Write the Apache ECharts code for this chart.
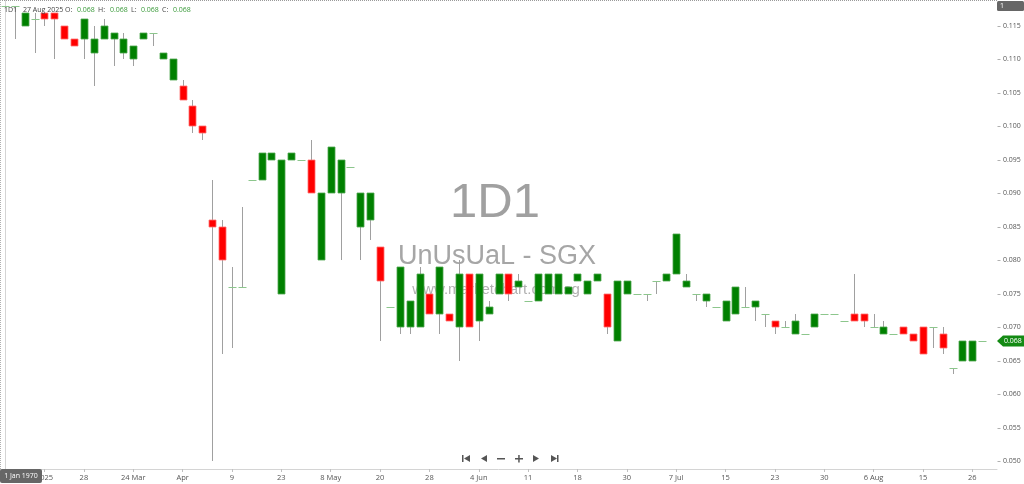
<!DOCTYPE html>
<html><head><meta charset="utf-8">
<script src="https://cdn.jsdelivr.net/npm/echarts@6/dist/echarts.min.js"></script>
<style>html,body{margin:0;padding:0;background:#fff}#c{width:1024px;height:484px}</style>
</head><body><div id="c"></div>
<script>
// ---- data ----
const symbolName = '1D1';
const lastDate = '27 Aug 2025';
const openP = [
 0.118,0.118,0.115,0.116,0.117,0.117,0.115,0.113,0.113,0.111,
 0.113,0.113,0.111,0.110,0.113,0.114,0.110,0.107,0.106,0.103,
 0.100,0.086,0.085,0.076,0.076,0.092,0.092,0.095,0.075,0.095,
 0.095,0.095,0.080,0.090,0.090,0.094,0.085,0.086,0.082,0.073,
 0.070,0.070,0.070,0.075,0.072,0.072,0.070,0.078,0.071,0.072,
 0.075,0.078,0.076,0.074,0.074,0.075,0.075,0.075,0.077,0.075,
 0.077,0.075,0.068,0.075,0.075,0.075,0.077,0.077,0.078,0.076,
 0.075,0.074,0.073,0.071,0.072,0.073,0.073,0.072,0.071,0.070,
 0.069,0.069,0.070,0.072,0.072,0.071,0.072,0.072,0.070,0.069,
 0.069,0.070,0.069,0.070,0.070,0.069,0.064,0.065,0.065,0.068];
const highP = [
 0.118,0.118,0.117,0.117,0.117,0.117,0.115,0.113,0.116,0.115,
 0.116,0.114,0.114,0.112,0.114,0.114,0.111,0.110,0.107,0.104,
 0.100,0.092,0.086,0.079,0.088,0.092,0.096,0.096,0.095,0.096,
 0.095,0.098,0.090,0.097,0.095,0.094,0.090,0.090,0.082,0.073,
 0.079,0.074,0.079,0.075,0.079,0.072,0.080,0.078,0.078,0.074,
 0.078,0.078,0.078,0.074,0.078,0.078,0.078,0.076,0.078,0.077,
 0.078,0.075,0.077,0.077,0.075,0.075,0.077,0.078,0.084,0.078,
 0.075,0.075,0.073,0.074,0.076,0.076,0.074,0.072,0.071,0.071,
 0.072,0.069,0.072,0.072,0.072,0.071,0.078,0.072,0.072,0.071,
 0.069,0.070,0.069,0.070,0.070,0.070,0.064,0.068,0.068,0.068];
const lowP = [
 0.118,0.113,0.115,0.111,0.115,0.110,0.113,0.112,0.110,0.106,
 0.113,0.109,0.110,0.109,0.113,0.112,0.110,0.107,0.104,0.099,
 0.098,0.050,0.066,0.067,0.076,0.092,0.092,0.095,0.075,0.095,
 0.095,0.090,0.080,0.090,0.080,0.094,0.080,0.083,0.068,0.073,
 0.069,0.069,0.070,0.072,0.069,0.071,0.065,0.070,0.068,0.072,
 0.075,0.074,0.076,0.074,0.074,0.075,0.075,0.075,0.077,0.075,
 0.077,0.069,0.068,0.075,0.075,0.074,0.075,0.077,0.078,0.076,
 0.074,0.073,0.073,0.071,0.072,0.073,0.071,0.070,0.069,0.070,
 0.069,0.069,0.070,0.072,0.072,0.071,0.071,0.070,0.070,0.069,
 0.069,0.069,0.068,0.066,0.067,0.066,0.063,0.065,0.065,0.068];
const closeP = [
 0.118,0.118,0.117,0.116,0.116,0.116,0.113,0.112,0.116,0.113,
 0.115,0.114,0.113,0.112,0.114,0.114,0.111,0.110,0.104,0.100,
 0.099,0.085,0.080,0.076,0.076,0.092,0.096,0.096,0.095,0.096,
 0.095,0.090,0.090,0.097,0.095,0.094,0.090,0.090,0.077,0.073,
 0.079,0.074,0.078,0.072,0.079,0.071,0.078,0.070,0.078,0.073,
 0.078,0.075,0.077,0.074,0.078,0.078,0.078,0.076,0.078,0.077,
 0.078,0.070,0.077,0.077,0.075,0.075,0.077,0.078,0.084,0.077,
 0.075,0.075,0.073,0.074,0.076,0.073,0.074,0.072,0.070,0.070,
 0.071,0.069,0.072,0.072,0.072,0.071,0.071,0.071,0.070,0.070,
 0.069,0.069,0.068,0.066,0.070,0.067,0.064,0.068,0.068,0.068];
const tickIdx  = [4,8,13,18,23,28,33,38,43,48,53,58,63,68,73,78,83,88,93,98];
const tickText = ['2025','28','24 Mar','Apr','9','23','8 May','20','28','4 Jun','11','18','30','7 Jul','15','23','30','6 Aug','15','26'];
const yTicks = [0.050,0.055,0.060,0.065,0.070,0.075,0.080,0.085,0.090,0.095,0.100,0.105,0.110,0.115];

// ---- chart ----
const GREEN = '#008000', RED = '#ff0000', WICK = '#a0a0a0', DOJI = '#8cc68c';
const FONT = 'Open Sans';
const rows = openP.map((o, i) => [i, o, highP[i], lowP[i], closeP[i]]);

function renderItem(params, api) {
  const k = api.value(0), o = api.value(1), h = api.value(2), l = api.value(3), c = api.value(4);
  const pO = api.coord([k, o]), pC = api.coord([k, c]), pH = api.coord([k, h]), pL = api.coord([k, l]);
  const cx = Math.round(pO[0]) + 0.5;
  const children = [];
  if (h > Math.max(o, c) || l < Math.min(o, c)) {
    children.push({type: 'line', shape: {x1: cx, y1: Math.round(pH[1]), x2: cx, y2: Math.round(pL[1])},
      style: {stroke: WICK, lineWidth: 1}});
  }
  if (o === c) {
    const y = Math.round(pO[1]) + 0.5;
    children.push({type: 'line', shape: {x1: cx - 4, y1: y, x2: cx + 4, y2: y}, style: {stroke: DOJI, lineWidth: 1}});
  } else {
    const top = Math.round(Math.min(pO[1], pC[1])), bot = Math.round(Math.max(pO[1], pC[1]));
    children.push({type: 'rect', shape: {x: cx - 3.5, y: top, width: 7, height: bot - top},
      style: {fill: c > o ? GREEN : RED, stroke: c > o ? '#4ea64e' : '#ff7070', lineWidth: 0.8}});
  }
  return {type: 'group', children};
}

const chart = echarts.init(document.getElementById('c'), null, {renderer: 'canvas'});
chart.setOption({
  animation: false,
  backgroundColor: '#ffffff',
  grid: {left: 0, right: 27, top: 0, bottom: 15},
  xAxis: {
    type: 'value', min: -0.5, max: 100.5,
    splitLine: {show: false}, minorTick: {show: false},
    axisLine: {show: true, onZero: false, lineStyle: {color: '#d4d4d4', width: 1}},
    axisTick: {show: true, customValues: tickIdx, length: 3, lineStyle: {color: '#c0c0c0'}},
    axisLabel: {customValues: tickIdx, margin: 5, color: '#555', fontSize: 7.5, fontFamily: FONT,
      formatter: v => { const i = tickIdx.indexOf(Math.round(v)); return i >= 0 ? tickText[i] : ''; }}
  },
  yAxis: {
    type: 'value', position: 'right', min: 0.04888, max: 0.11888, scale: true,
    splitLine: {show: false}, minorTick: {show: false}, splitArea: {show: false},
    axisLine: {show: true, lineStyle: {color: '#d4d4d4', width: 1}},
    axisTick: {show: false},
    axisLabel: {customValues: yTicks, margin: 6, color: '#555', fontSize: 7, fontFamily: FONT,
      formatter: v => v.toFixed(3)}
  },
  series: [{
    type: 'custom', renderItem, data: rows, clip: true,
    encode: {x: 0, y: [1, 2, 3, 4]}, z: 5
  }]
});

const last = rows.length - 1;
const py = chart.convertToPixel({yAxisIndex: 0}, closeP[last]);
const f3 = v => v.toFixed(3);
const hdr = (x, t, col) => ({type: 'text', x, y: 10, z: 50,
  style: {text: t, fill: col, font: '7px "Open Sans"', textVerticalAlign: 'middle'}});
const tri = (pts) => ({type: 'polygon', z: 50, shape: {points: pts}, style: {fill: '#555'}});
const yTickMarks = yTicks.map(v => {
  const y = Math.round(chart.convertToPixel({yAxisIndex: 0}, v)) + 0.5;
  return {type: 'line', z: 45, shape: {x1: 997.5, y1: y, x2: 1000.5, y2: y}, style: {stroke: '#b0b0b0', lineWidth: 1}};
});

chart.setOption({
  graphic: [
    // watermarks
    {type: 'text', x: 495, y: 203, z: -10, style: {text: symbolName, fill: '#a0a0a0', font: '49px "Liberation Sans"', textAlign: 'center', textVerticalAlign: 'middle'}},
    {type: 'text', x: 497, y: 257, z: -10, style: {text: 'UnUsUaL - SGX', fill: '#a6a6a6', font: '27px "Liberation Sans"', textAlign: 'center', textVerticalAlign: 'middle'}},
    {type: 'text', x: 496, y: 290, z: -10, style: {text: 'www.marketchart.com.sg', fill: '#b0b0b0', font: '15px "Liberation Sans"', textAlign: 'center', textVerticalAlign: 'middle'}},
    // dotted borders
    {type: 'line', z: 40, shape: {x1: 0, y1: 0.5, x2: 997, y2: 0.5}, style: {stroke: '#9a9a9a', lineWidth: 1, lineDash: [1, 1]}},
    {type: 'line', z: 40, shape: {x1: 0.5, y1: 0, x2: 0.5, y2: 469}, style: {stroke: '#b0b0b0', lineWidth: 1, lineDash: [1, 1]}},
    ...yTickMarks,
    // header
    hdr(4, symbolName, '#444'), hdr(23, lastDate, '#444'),
    hdr(65, 'O:', '#444'), hdr(77, f3(openP[last]), '#3a9a3a'),
    hdr(98, 'H:', '#444'), hdr(110, f3(highP[last]), '#3a9a3a'),
    hdr(131, 'L:', '#444'), hdr(141, f3(lowP[last]), '#3a9a3a'),
    hdr(162, 'C:', '#444'), hdr(173, f3(closeP[last]), '#3a9a3a'),
    // top-right box
    {type: 'rect', z: 50, shape: {x: 997, y: 1, width: 27, height: 10, r: 1.5}, style: {fill: '#666'}},
    {type: 'text', x: 1000, y: 6, z: 51, style: {text: '1', fill: '#fff', font: '7px "Open Sans"', textVerticalAlign: 'middle'}},
    // bottom-left date box
    {type: 'rect', z: 50, shape: {x: 0, y: 469, width: 42, height: 14, r: 2}, style: {fill: '#666'}},
    {type: 'text', x: 21, y: 476, z: 51, style: {text: '1 Jan 1970', fill: '#fff', font: '7px "Open Sans"', textAlign: 'center', textVerticalAlign: 'middle'}},
    // last price tag
    {type: 'polygon', z: 50, shape: {points: [[997, py], [1003, py - 5.5], [1024, py - 5.5], [1024, py + 5.5], [1003, py + 5.5]]}, style: {fill: '#138a13'}},
    {type: 'text', x: 1004, y: py, z: 51, style: {text: f3(closeP[last]), fill: '#fff', font: '7px "Open Sans"', textVerticalAlign: 'middle'}},
    // navigation icons
    {type: 'rect', z: 50, shape: {x: 462, y: 455, width: 1.5, height: 7}, style: {fill: '#555'}},
    tri([[470, 455], [470, 462], [464, 458.5]]),
    tri([[487, 455], [487, 462], [481, 458.5]]),
    {type: 'rect', z: 50, shape: {x: 497, y: 458, width: 8, height: 1.5}, style: {fill: '#555'}},
    {type: 'rect', z: 50, shape: {x: 515, y: 458, width: 8, height: 1.5}, style: {fill: '#555'}},
    {type: 'rect', z: 50, shape: {x: 518.2, y: 455, width: 1.5, height: 7.5}, style: {fill: '#555'}},
    tri([[533, 455], [533, 462], [539, 458.5]]),
    tri([[551, 455], [551, 462], [557, 458.5]]),
    {type: 'rect', z: 50, shape: {x: 557, y: 455, width: 1.5, height: 7}, style: {fill: '#555'}}
  ]
});
</script></body></html>
